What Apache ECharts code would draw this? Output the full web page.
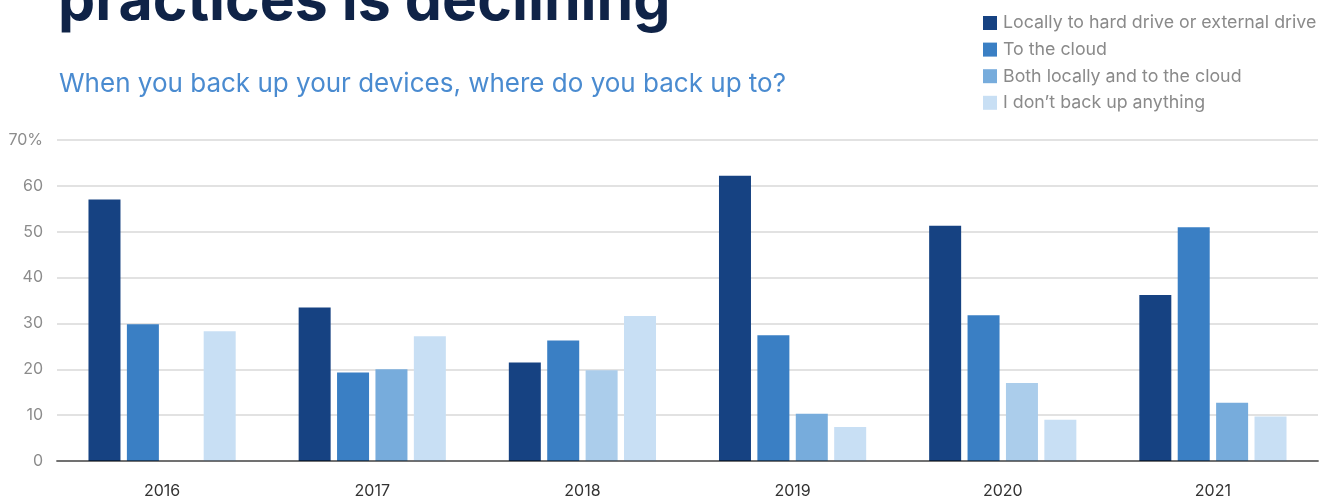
<!DOCTYPE html>
<html><head><meta charset="utf-8">
<script src="https://cdn.jsdelivr.net/npm/echarts@6/dist/echarts.min.js"></script>
<style>html,body{margin:0;padding:0;background:#fff}#c{width:1327px;height:500px}</style>
</head><body><div id="c"></div>
<script>
const categories = ['2016','2017','2018','2019','2020','2021'];
const seriesNames = ['Locally to hard drive or external drive','To the cloud','Both locally and to the cloud','I don\u2019t back up anything'];
const localValues = [57, 33.5, 21.5, 62.2, 51.3, 36.2];
const cloudValues = [29.8, 19.3, 26.3, 27.4, 31.8, 51];
const bothValues = [null, 20, 19.8, 10.3, 17, 12.7];
const noneValues = [28.3, 27.2, 31.6, 7.4, 9, 9.7];
const yTicks = [0,10,20,30,40,50,60,70];
const titleText = 'practices is declining';
const subtitleText = 'When you back up your devices, where do you back up to?';

const colors = ['#164282', '#3a7fc4', '#77acdc', '#c8dff4'];
const lighterBoth = '#abcdeb';
const lighterBothYears = ['2018','2020'];

const F = 'Inter, "Noto Sans", sans-serif';
const chart = echarts.init(document.getElementById('c'), null, {renderer:'canvas'});

function mk(idx, vals){
  return {
    name: seriesNames[idx], type:'bar', z:2,
    barWidth:32, barGap:'20%',
    itemStyle:{color:colors[idx]},
    data: vals.map((v,i)=> (idx===2 && lighterBothYears.includes(categories[i])) ? {value:v, itemStyle:{color:lighterBoth}} : v)
  };
}

chart.setOption({
  animation:false,
  color: colors,
  graphic:[
    {type:'text', left:58, top:-27, style:{text:titleText, font:'bold 59px '+F, fill:'#0f2347'}},
    {type:'text', left:59, top:71, style:{text:subtitleText, font:'26px '+F, fill:'#4a8bd0'}}
  ],
  legend:{
    orient:'vertical', left:978, top:9, itemWidth:14, itemHeight:14, itemGap:8.6,
    icon:'rect', textStyle:{color:'#8a8a8a', fontSize:17.8, fontFamily:F, padding:[0,0,0,1]},
    data: seriesNames
  },
  grid:{left:57, right:9, top:140, bottom:39},
  xAxis:{
    type:'category', data:categories, z:5,
    axisLine:{lineStyle:{color:'rgba(0,0,0,0.5)', width:2}},
    axisTick:{show:false},
    axisLabel:{color:'#333', fontSize:16, fontFamily:F, margin:22}
  },
  yAxis:{
    type:'value', min:yTicks[0], max:yTicks[yTicks.length-1], interval:10,
    axisLine:{show:false}, axisTick:{show:false},
    splitLine:{lineStyle:{color:'#d8d8d8', width:1.5}},
    axisLabel:{color:'#8c8c8c', fontSize:16, fontFamily:F, margin:14,
      formatter:v=> v===yTicks[yTicks.length-1] ? v+'%' : String(v)}
  },
  series:[mk(0,localValues), mk(1,cloudValues), mk(2,bothValues), mk(3,noneValues)]
});
</script></body></html>
